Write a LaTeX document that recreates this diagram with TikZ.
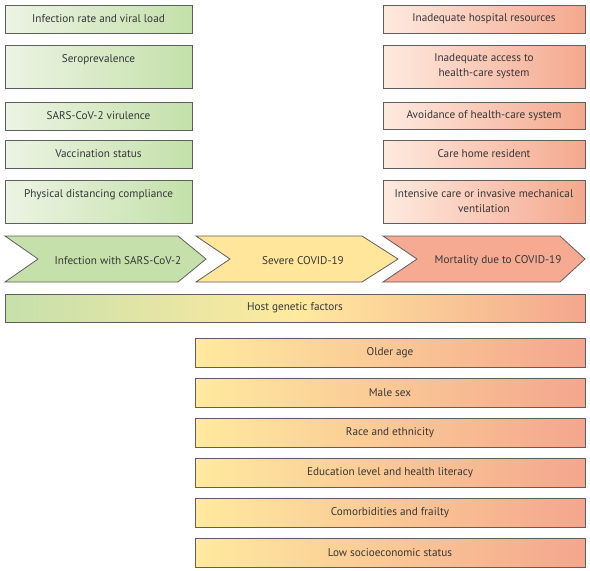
\documentclass[tikz,border=0pt]{standalone}
\usepackage{fontspec}
\setmainfont{PT Sans}
\usetikzlibrary{positioning}

\definecolor{boxline}{RGB}{95,95,95}
\definecolor{txt}{RGB}{55,55,55}
\definecolor{glight}{RGB}{236,244,228}
\definecolor{gdark}{RGB}{196,224,170}
\definecolor{rlight}{RGB}{254,234,224}
\definecolor{rdark}{RGB}{244,168,142}
\definecolor{ylw}{RGB}{255,234,158}
\definecolor{slm}{RGB}{244,166,142}
\definecolor{gchev}{RGB}{198,224,172}
\definecolor{ychev}{RGB}{255,230,155}
\definecolor{rchev}{RGB}{245,170,145}

\tikzset{
  box/.style={draw=boxline, line width=0.8pt, rectangle, inner sep=2pt, outer sep=0pt,
    anchor=north west, align=center, text=txt, font=\fontsize{11.2}{15}\selectfont},
  greenbox/.style={box, minimum width=187, left color=glight, right color=gdark},
  redbox/.style={box, minimum width=202, left color=rlight, right color=rdark},
  riskbox/.style={box, minimum width=390, minimum height=29, left color=ylw, right color=slm},
  chev/.style={draw=boxline, line width=0.8pt},
  lbl/.style={text=txt, font=\fontsize{11.2}{15}\selectfont, inner sep=1pt}
}

\begin{document}
\begin{tikzpicture}[x=1pt,y=-1pt]
\useasboundingbox (0,0) rectangle (590,571);

% infection factors
\node[greenbox, minimum height=28] (rate) at (5,5) {Infection rate and viral load};
\node[greenbox, minimum height=43] (sero) at (5,45) {Seroprevalence\\~};
\node[greenbox, minimum height=28] (virul) at (5,102) {SARS-CoV-2 virulence};
\node[greenbox, minimum height=28] (vacc) at (5,140) {Vaccination status};
\node[greenbox, minimum height=43] (dist) at (5,180) {Physical distancing compliance\\~};

% mortality factors
\node[redbox, minimum height=28] (hosp) at (383,5) {Inadequate hospital resources};
\node[redbox, minimum height=43] (access) at (383,45) {Inadequate access to\\health-care system};
\node[redbox, minimum height=27] (avoid) at (383,102) {Avoidance of health-care system};
\node[redbox, minimum height=28] (carehome) at (383,140) {Care home resident};
\node[redbox, minimum height=43] (icu) at (383,180) {Intensive care or invasive mechanical\\ventilation};

% outcome chain
\draw[chev, fill=gchev] (5,236) -- (178,236) -- (206,259) -- (178,282) -- (5,282) -- (38,259) -- cycle;
\draw[chev, fill=ychev] (196,236) -- (362,236) -- (398,259) -- (362,282) -- (196,282) -- (230,259) -- cycle;
\draw[chev, fill=rchev] (383,236) -- (560,236) -- (585,259) -- (560,282) -- (383,282) -- (417,259) -- cycle;
\node[lbl] (infection) at (118,261) {Infection with SARS-CoV-2};
\node[lbl] (severe) at (303,261) {Severe COVID-19};
\node[lbl] (mortality) at (498,261) {Mortality due to COVID-19};

% host factors
\node[box, minimum width=580, minimum height=28, left color=gchev, right color=slm, middle color=ylw] (genetic) at (5,294) {Host genetic factors};
\node[riskbox] (age) at (195,338) {Older age};
\node[riskbox] (sex) at (195,378) {Male sex};
\node[riskbox] (race) at (195,418) {Race and ethnicity};
\node[riskbox] (edu) at (195,458) {Education level and health literacy};
\node[riskbox] (comorb) at (195,498) {Comorbidities and frailty};
\node[riskbox] (ses) at (195,538) {Low socioeconomic status};

\end{tikzpicture}
\end{document}
